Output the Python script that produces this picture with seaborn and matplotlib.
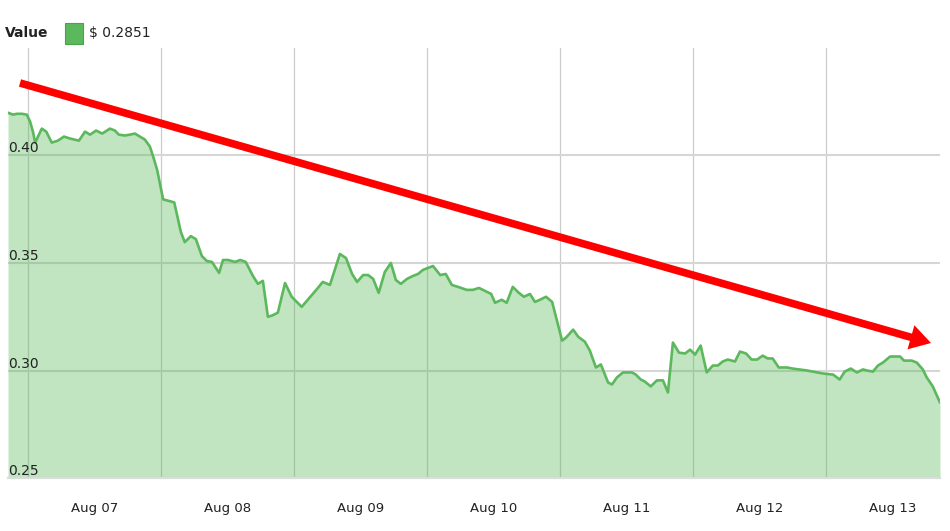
import numpy as np
import pandas as pd
import matplotlib
matplotlib.use("Agg")
import matplotlib.pyplot as plt
import matplotlib.dates as mdates
import matplotlib.transforms as mtransforms
from matplotlib.patches import Rectangle
import seaborn as sns

# ---------------- data ----------------
hours_from_aug07 = [
    -3.6, -2.7, -2.0, -1.1, -0.2, 0.4, 0.9, 1.3, 2.5, 3.3, 4.3, 5.4, 6.5, 7.6, 9.2,
    10.3, 11.2, 12.3, 13.4, 14.8, 15.7, 16.4, 17.5, 18.4, 19.3, 20.2, 21.1, 22.0, 22.6,
    23.3, 24.4, 26.4, 27.6, 28.3, 29.4, 30.3, 31.4, 32.3, 33.2, 34.5, 35.2, 36.1, 37.4,
    38.3, 39.3, 40.6, 41.5, 42.4, 43.3, 44.0, 45.1, 46.4, 47.6, 49.4, 52.2, 53.2, 54.5,
    56.3, 57.4, 58.5, 59.4, 60.5, 61.4, 62.3, 63.3, 64.4, 65.5, 66.4, 67.3, 68.4, 69.5,
    70.4, 71.3, 72.2, 73.1, 74.4, 75.4, 76.5, 77.6, 79.2, 80.3, 81.4, 82.5, 83.6, 84.3,
    85.5, 86.4, 87.5, 88.6, 89.5, 90.6, 91.5, 92.4, 93.5, 94.6, 96.4, 97.1, 98.4, 99.3,
    100.5, 101.4, 102.5, 103.4, 104.7, 105.4, 106.3, 107.4, 109.0, 109.7, 110.6, 111.3,
    112.4, 113.5, 114.6, 115.5, 116.4, 117.5, 118.6, 119.5, 120.4, 121.4, 122.5, 123.6,
    124.5, 125.4, 126.3, 127.6, 128.5, 129.6, 130.6, 131.6, 132.6, 133.5, 134.4, 135.5,
    137.0, 138.0, 140.6, 143.5, 145.3, 146.5, 147.4, 148.5, 149.6, 150.7, 151.4, 152.5,
    153.4, 154.3, 155.6, 157.4, 158.1, 159.5, 160.4, 161.5, 162.2, 163.3, 164.6,
]
price_usd = [
    0.4199, 0.4190, 0.4194, 0.4194, 0.4190, 0.4157, 0.4111, 0.4060, 0.4125, 0.4111,
    0.4060, 0.4069, 0.4088, 0.4079, 0.4069, 0.4111, 0.4097, 0.4116, 0.4102, 0.4125,
    0.4116, 0.4097, 0.4093, 0.4097, 0.4102, 0.4088, 0.4074, 0.4042, 0.3995, 0.3935,
    0.3796, 0.3782, 0.3644, 0.3597, 0.3625, 0.3611, 0.3532, 0.3509, 0.3505, 0.3454,
    0.3514, 0.3514, 0.3505, 0.3514, 0.3505, 0.3440, 0.3403, 0.3417, 0.3250, 0.3255,
    0.3269, 0.3407, 0.3343, 0.3296, 0.3380, 0.3412, 0.3398, 0.3542, 0.3523, 0.3449,
    0.3412, 0.3444, 0.3444, 0.3426, 0.3361, 0.3458, 0.3500, 0.3421, 0.3403, 0.3426,
    0.3440, 0.3449, 0.3468, 0.3477, 0.3486, 0.3444, 0.3449, 0.3398, 0.3389, 0.3375,
    0.3375, 0.3384, 0.3370, 0.3356, 0.3315, 0.3329, 0.3315, 0.3389, 0.3361, 0.3343,
    0.3356, 0.3319, 0.3329, 0.3343, 0.3319, 0.3139, 0.3153, 0.3190, 0.3157, 0.3134,
    0.3093, 0.3014, 0.3028, 0.2944, 0.2935, 0.2968, 0.2991, 0.2991, 0.2981, 0.2958,
    0.2949, 0.2926, 0.2954, 0.2954, 0.2898, 0.3130, 0.3083, 0.3079, 0.3097, 0.3074,
    0.3116, 0.2991, 0.3023, 0.3023, 0.3042, 0.3051, 0.3042, 0.3088, 0.3079, 0.3051,
    0.3051, 0.3069, 0.3056, 0.3056, 0.3014, 0.3014, 0.3009, 0.3000, 0.2986, 0.2981,
    0.2958, 0.2995, 0.3009, 0.2991, 0.3005, 0.3000, 0.2995, 0.3023, 0.3037, 0.3065,
    0.3065, 0.3046, 0.3046, 0.3037, 0.3005, 0.2968, 0.2926, 0.2851,
]
y_ticks = [0.25, 0.30, 0.35, 0.40]
y_range = [0.25, 0.45]
x_range_hours = [-3.6, 164.6]
legend_label = "Value"
legend_value = "$ 0.2851"

base = pd.Timestamp("2018-08-07 00:00")
df = pd.DataFrame({
    "time": base + pd.to_timedelta(hours_from_aug07, unit="h"),
    "value": price_usd,
})

# ---------------- style ----------------
sns.set_theme(style="white")
plt.rcParams["font.family"] = ["DejaVu Sans"]

LINE = "#5cb85c"
FILL = "#5cb85c"

fig = plt.figure(figsize=(9.5, 5.31), dpi=100)
ax = fig.add_axes([8 / 950, 53 / 531, 932 / 950, 430 / 531])

ax.fill_between(df["time"], df["value"], y_range[0], color=FILL, alpha=0.38,
                lw=0, zorder=2)
sns.lineplot(data=df, x="time", y="value", ax=ax, color=LINE, lw=1.9, zorder=3)

ax.set_xlim(base + pd.Timedelta(hours=x_range_hours[0]),
            base + pd.Timedelta(hours=x_range_hours[1]))
ax.set_ylim(*y_range)

# grid
ax.set_yticks(y_ticks)
ax.xaxis.set_major_locator(mdates.DayLocator())
ax.xaxis.set_major_formatter(matplotlib.ticker.NullFormatter())
ax.xaxis.set_minor_locator(mdates.HourLocator(byhour=[12]))
ax.xaxis.set_minor_formatter(mdates.DateFormatter("%b %d"))
ax.grid(True, which="major", axis="x", color="#cccccc", lw=0.9, zorder=1)
ax.grid(True, which="major", axis="y", color="#d6d6d6", lw=1.5, zorder=1)
ax.set_axisbelow(True)
ax.tick_params(axis="x", which="both", length=0)
ax.tick_params(axis="x", which="minor", pad=17, labelsize=9.5, labelcolor="#222222")
ax.tick_params(axis="y", length=0, labelleft=False)
ax.set_xlabel("")
ax.set_ylabel("")

for s in ["top", "right", "left"]:
    ax.spines[s].set_visible(False)
ax.spines["bottom"].set_color("#dcdcdc")
ax.spines["bottom"].set_linewidth(1.6)

# y labels inside the plot, just above gridlines
trans = mtransforms.blended_transform_factory(ax.transAxes, ax.transData)
for v in y_ticks:
    ax.text(0.0, v, f"{v:.2f}", transform=trans, ha="left", va="bottom",
            fontsize=10, color="#222222", zorder=4)

# legend-like header
fig.text(5 / 950, 1 - 33 / 531, legend_label, ha="left", va="center",
         fontsize=10, fontweight="bold", color="#222222")
fig.patches.append(Rectangle((65 / 950, 1 - 44 / 531), 18 / 950, 21 / 531,
                             transform=fig.transFigure, facecolor=LINE,
                             edgecolor="#4aa34a", lw=0.8))
fig.text(89 / 950, 1 - 33 / 531, legend_value, ha="left", va="center",
         fontsize=10, color="#222222")

# red trend arrow
ax.annotate("", xy=(931 / 950, 1 - 343 / 531), xycoords="figure fraction",
            xytext=(20 / 950, 1 - 83 / 531), textcoords="figure fraction",
            arrowprops=dict(arrowstyle="simple,head_length=1.5,head_width=1.8,tail_width=0.55",
                            mutation_scale=10, facecolor="red", edgecolor="none",
                            shrinkA=0, shrinkB=0),
            annotation_clip=False, zorder=6)

fig.savefig("out.png", dpi=100)
